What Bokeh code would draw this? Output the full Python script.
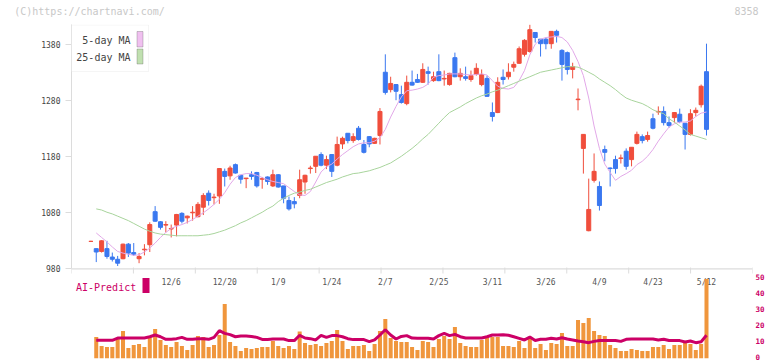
import numpy as np
from bokeh.plotting import figure
from bokeh.models import Range1d, LinearAxis, FixedTicker, Span, Label, BoxAnnotation, ColumnDataSource
from bokeh.core.properties import value
from bokeh.embed import file_html
from bokeh.resources import INLINE

nan = float("nan")

# ---------------- data ----------------
opens = [1029, 1016, 1011, 1016, 1001, 997, 998, 1024, 1009, 998,
         1014, 1023, 1082, 1064, 1058, 1051, 1058, 1079, 1071, 1080,
         1073, 1090, 1115, 1107, 1110, 1154, 1146, 1166, 1147, 1141,
         1148, 1152, 1140, 1144, 1128, 1148, 1128, 1102, 1100, 1111,
         1135, 1159, 1163, 1184, 1165, 1184, 1165, 1203, 1222, 1209,
         1231, 1202, 1216, 1204, 1218, 1331, 1300, 1309, 1291, 1275,
         1313, 1318, 1313, 1332, 1316, 1332, 1319, 1309, 1357, 1323,
         1323, 1318, 1327, 1309, 1320, 1259, 1259, 1322, 1323, 1340,
         1347, 1363, 1368, 1402, 1390, 1390, 1382, 1404, 1370, 1366,
         1336, 1282, 1195, 1048, 1138, 1127, 1193, 1160, 1175, 1177,
         1190, 1175, 1204, 1216, 1211, 1248, 1260, 1261, 1241, 1250,
         1256, 1240, 1220, 1259, 1273, 1332]
highs = [1030, 1016, 1031, 1030, 1009, 1003, 1025, 1026, 1026, 1008,
         1024, 1063, 1092, 1065, 1065, 1059, 1078, 1081, 1075, 1092,
         1099, 1115, 1120, 1114, 1160, 1159, 1164, 1168, 1147, 1142,
         1154, 1153, 1144, 1145, 1157, 1149, 1128, 1109, 1108, 1157,
         1148, 1164, 1181, 1188, 1182, 1185, 1216, 1216, 1222, 1222,
         1235, 1210, 1217, 1214, 1267, 1363, 1323, 1310, 1307, 1325,
         1334, 1328, 1347, 1341, 1332, 1363, 1334, 1330, 1366, 1338,
         1341, 1334, 1347, 1336, 1325, 1277, 1322, 1336, 1347, 1350,
         1377, 1390, 1416, 1402, 1390, 1393, 1404, 1407, 1372, 1368,
         1348, 1302, 1220, 1141, 1186, 1136, 1200, 1161, 1182, 1184,
         1195, 1197, 1225, 1220, 1225, 1257, 1270, 1270, 1252, 1260,
         1266, 1240, 1265, 1268, 1309, 1382]
lows = [1028, 992, 1009, 998, 993, 985, 997, 1001, 1003, 990,
        1004, 1010, 1064, 1050, 1045, 1036, 1038, 1061, 1061, 1066,
        1072, 1076, 1093, 1095, 1096, 1127, 1139, 1150, 1132, 1124,
        1139, 1125, 1123, 1130, 1126, 1125, 1097, 1084, 1088, 1106,
        1114, 1150, 1151, 1163, 1158, 1144, 1163, 1194, 1204, 1205,
        1209, 1186, 1197, 1203, 1202, 1291, 1295, 1281, 1275, 1272,
        1307, 1312, 1312, 1309, 1314, 1315, 1307, 1307, 1322, 1316,
        1316, 1314, 1325, 1306, 1287, 1243, 1258, 1309, 1318, 1332,
        1346, 1359, 1366, 1384, 1359, 1372, 1373, 1384, 1316, 1327,
        1320, 1263, 1150, 1047, 1134, 1084, 1172, 1127, 1150, 1168,
        1157, 1163, 1202, 1204, 1207, 1229, 1255, 1236, 1232, 1241,
        1240, 1193, 1218, 1252, 1268, 1218]
closes = [1029, 1010, 1030, 1002, 997, 990, 1024, 1008, 1006, 1002,
          1015, 1059, 1065, 1054, 1059, 1052, 1077, 1065, 1074, 1081,
          1095, 1111, 1102, 1108, 1159, 1145, 1160, 1151, 1140, 1142,
          1145, 1128, 1141, 1136, 1148, 1126, 1106, 1087, 1096, 1139,
          1147, 1160, 1181, 1165, 1175, 1154, 1202, 1213, 1209, 1216,
          1211, 1188, 1203, 1213, 1261, 1295, 1311, 1297, 1277, 1313,
          1308, 1313, 1336, 1329, 1323, 1316, 1320, 1329, 1323, 1329,
          1320, 1325, 1338, 1327, 1288, 1252, 1313, 1318, 1331, 1345,
          1373, 1388, 1407, 1393, 1382, 1382, 1404, 1397, 1345, 1336,
          1341, 1283, 1220, 1086, 1154, 1093, 1188, 1159, 1159, 1178,
          1163, 1197, 1220, 1209, 1218, 1231, 1261, 1241, 1236, 1259,
          1243, 1220, 1257, 1263, 1306, 1229]
ma5 = [nan, 1044, 1036, 1028, 1019, 1011, 1008, 1006, 1004, 1005,
       1010, 1017, 1026, 1036, 1045, 1052, 1056, 1059, 1063, 1068,
       1074, 1080, 1087, 1095, 1104, 1116, 1131, 1143, 1148, 1150,
       1150, 1147, 1143, 1139, 1136, 1134, 1132, 1125, 1118, 1112,
       1111, 1118, 1135, 1153, 1162, 1167, 1176, 1184, 1191, 1198,
       1203, 1205, 1205, 1208, 1214, 1229, 1251, 1270, 1287, 1298,
       1299, 1301, 1304, 1310, 1322, 1325, 1326, 1328, 1328, 1328,
       1327, 1326, 1327, 1328, 1326, 1316, 1306, 1302, 1301, 1304,
       1316, 1334, 1362, 1381, 1390, 1393, 1394, 1395, 1393, 1385,
       1370, 1350, 1325, 1285, 1235, 1195, 1167, 1152, 1138, 1145,
       1150, 1156, 1166, 1172, 1181, 1193, 1208, 1221, 1233, 1239,
       1242, 1242, 1244, 1252, 1258, 1260]
ma25 = [nan, 1087, 1085, 1081, 1078, 1074, 1070, 1066, 1061, 1056,
        1051, 1047, 1044, 1042, 1041, 1040, 1039, 1039, 1039, 1039,
        1039, 1040, 1041, 1043, 1046, 1049, 1053, 1057, 1062, 1066,
        1071, 1076, 1081, 1087, 1092, 1100, 1106, 1111, 1115, 1117,
        1120, 1122, 1126, 1130, 1134, 1137, 1140, 1144, 1147, 1150,
        1151, 1153, 1155, 1158, 1161, 1165, 1169, 1175, 1181, 1188,
        1195, 1203, 1212, 1220, 1230, 1240, 1250, 1259, 1264, 1269,
        1275, 1280, 1285, 1289, 1292, 1296, 1299, 1303, 1307, 1311,
        1315, 1319, 1323, 1327, 1331, 1333, 1335, 1337, 1339, 1341,
        1341, 1340, 1336, 1331, 1326, 1319, 1313, 1307, 1300, 1292,
        1285, 1281, 1278, 1275, 1270, 1264, 1260, 1257, 1248, 1242,
        1235, 1228, 1220, 1217, 1214, 1211]
volume = [nan, 13.4, 7.8, 7.2, 7.2, 12.5, 17.2, 6.6, 8.4, 9.1,
          7.2, 13.2, 18.4, 11.6, 8.4, 7.2, 10.3, 7.8, 5.3, 8.4,
          14.1, 13.4, 7.2, 8.4, 14.7, 34.1, 10.3, 7.8, 4.7, 6.6,
          5.9, 6.6, 7.2, 7.2, 10.9, 7.8, 6.6, 7.8, 5.9, 16.8,
          9.7, 8.4, 9.1, 7.8, 9.7, 10.9, 17.8, 10.9, 5.9, 7.8,
          7.8, 8.4, 4.7, 9.1, 17.2, 24.7, 12.8, 10.9, 10.3, 10.3,
          7.2, 5.3, 10.9, 10.3, 7.2, 12.2, 14.1, 12.2, 19.7, 9.7,
          7.8, 7.2, 7.2, 11.6, 13.4, 13.4, 13.4, 7.8, 7.8, 7.2,
          10.9, 6.6, 12.2, 6.6, 9.1, 5.3, 9.7, 9.1, 15.9, 7.8,
          7.8, 24.1, 22.2, 25.3, 17.2, 14.7, 14.1, 8.4, 6.6, 4.7,
          4.7, 5.9, 5.3, 4.7, 4.7, 7.2, 7.2, 8.4, 5.9, 8.4,
          8.4, 10.9, 9.1, 5.3, 9.1, 49.7]
ai_predict = [nan, 11.4, 11.4, 11.4, 11.4, 12.8, 12.8, 12.8, 12.8, 12.8,
              12.8, 13.6, 14.7, 13.6, 12.0, 12.0, 12.4, 13.2, 12.0, 12.0,
              12.4, 12.4, 12.0, 13.2, 17.4, 15.7, 14.9, 13.6, 14.1, 14.1,
              13.8, 13.2, 11.9, 11.9, 12.2, 12.2, 12.2, 11.2, 11.2, 14.5,
              12.8, 12.4, 11.6, 14.5, 13.2, 14.3, 14.3, 13.6, 12.4, 11.8,
              11.8, 11.8, 10.5, 11.6, 14.7, 18.0, 14.7, 12.2, 13.8, 14.3,
              12.8, 12.6, 12.6, 12.6, 12.2, 14.3, 15.7, 14.3, 15.1, 13.6,
              12.8, 12.8, 12.8, 12.8, 13.6, 14.7, 14.7, 14.8, 14.5, 13.6,
              12.6, 11.6, 13.4, 11.2, 12.0, 12.0, 12.6, 12.2, 13.0, 12.2,
              11.6, 10.9, 10.5, 9.9, 10.7, 11.2, 11.2, 11.2, 11.2, 10.7,
              12.0, 12.2, 12.2, 12.2, 12.2, 12.2, 11.6, 12.0, 11.2, 11.2,
              11.2, 10.3, 10.9, 9.9, 10.5, 14.5]
tick_index = [15, 25, 35, 45, 55, 65, 75, 85, 95, 105, 115]
tick_labels = ["12/6", "12/20", "1/9", "1/24", "2/7", "2/25", "3/11", "3/26", "4/9", "4/23", "5/12"]
price_ticks = [980, 1080, 1180, 1280, 1380]
volume_ticks = [0, 10, 20, 30, 40, 50]
code_label = "8358"
copyright_label = "(C)https://chartnavi.com/"

# ---------------- styling / geometry ----------------
FONT = "DejaVu Sans Mono"
RED = "#f04e3c"
BLUE = "#3a78f0"
ORANGE = "#f0963c"
CRIMSON = "#cc0066"
MA5_COLOR = "#e2a8e8"
MA25_COLOR = "#a8d49c"
AXIS = "#dcdcdc"

FRAME_LEFT, FRAME_TOP = 71, 24      # page pixels
FRAME_W, FRAME_H = 681, 334
DX = 5.353                           # pixels per session
X_FIRST_PX = 90.4                    # page x of session 0
X0 = (FRAME_LEFT - X_FIRST_PX) / DX
X1 = X0 + FRAME_W / DX
PY = 0.56                            # pixels per yen
P_TOP = 980 + (268.3 - FRAME_TOP) / PY
P_BOT = P_TOP - FRAME_H / PY
VY = 1.6                             # pixels per volume unit
V_TOP = FRAME_H / VY
LABEL_SHIFT = 1.5 / VY               # keep the "0" of the volume scale inside the page


def xp(px):
    return X0 + (px - FRAME_LEFT) / DX


def yp(py):
    return P_TOP - (py - FRAME_TOP) / PY


o = np.array(opens, dtype=float)
c = np.array(closes, dtype=float)
h = np.array(highs, dtype=float)
l = np.array(lows, dtype=float)
n = len(c)
idx = np.arange(n)
colors = [RED if cc >= oo else BLUE for oo, cc in zip(o, c)]

p = figure(frame_width=FRAME_W, frame_height=FRAME_H,
           x_range=Range1d(X0, X1), y_range=Range1d(P_BOT, P_TOP),
           output_backend="svg", toolbar_location=None, x_axis_location=None,
           min_border_left=FRAME_LEFT, min_border_right=12,
           min_border_top=FRAME_TOP, min_border_bottom=3)
p.extra_y_ranges = {"vol": Range1d(0, V_TOP),
                    "vol_labels": Range1d(-LABEL_SHIFT, V_TOP - LABEL_SHIFT)}
p.extra_x_ranges = {"page": Range1d(FRAME_LEFT, FRAME_LEFT + FRAME_W)}
p.outline_line_color = None
p.grid.visible = False
p.background_fill_color = "white"
p.border_fill_color = "white"

ya = p.yaxis[0]
ya.ticker = FixedTicker(ticks=price_ticks)
ya.bounds = (980, P_TOP)
ya.axis_line_color = AXIS
ya.major_tick_line_color = AXIS
ya.major_tick_out = 6
ya.major_tick_in = 0
ya.minor_tick_line_color = None
ya.major_label_text_font = FONT
ya.major_label_text_font_size = "8px"
ya.major_label_text_color = "#444444"
ya.major_label_standoff = 5

va = LinearAxis(y_range_name="vol_labels", ticker=FixedTicker(ticks=volume_ticks),
                axis_line_color=None, major_tick_line_color=None, minor_tick_line_color=None,
                major_tick_out=0, major_tick_in=0, major_label_standoff=3,
                major_label_text_color=CRIMSON, major_label_text_font=FONT,
                major_label_text_font_size="7.5px", major_label_text_font_style="bold")
p.add_layout(va, "right")

# header texts: copyright (left) and security code (right), as labels of a bare top axis
hdr_pos = [89, 746]
hdr = LinearAxis(x_range_name="page", ticker=FixedTicker(ticks=hdr_pos),
                 major_label_overrides={hdr_pos[0]: copyright_label, hdr_pos[1]: code_label},
                 axis_line_color=None, major_tick_line_color=None, minor_tick_line_color=None,
                 major_tick_out=0, major_tick_in=0, major_label_standoff=8,
                 major_label_text_color="#c8c8c8", major_label_text_font=FONT,
                 major_label_text_font_size="10px")
p.add_layout(hdr, "above")

# x axis line and tick marks (drawn inside the frame)
p.add_layout(Span(location=980, dimension="width", line_color=AXIS, line_width=1.3))
tx = list(np.linspace(X0, X1, 12))
p.segment(x0=tx, x1=tx, y0=[yp(267)] * 12, y1=[yp(273)] * 12, line_color=AXIS, line_width=1)

# date labels
p.text(x=tick_index, y=[yp(282)] * len(tick_index), text=tick_labels,
       text_font=value(FONT), text_font_size=value("8px"), text_color="#555555",
       text_align="center", text_baseline="middle")

# volume and AI prediction
p.vbar(x=idx, top=np.array(volume, dtype=float), bottom=0, width=0.75,
       fill_color=ORANGE, line_color=None, y_range_name="vol")
p.line(x=idx, y=np.array(ai_predict, dtype=float), line_color=CRIMSON, line_width=3,
       y_range_name="vol")

# candlesticks
src = ColumnDataSource(dict(x=idx, top=np.maximum(o, c), bottom=np.minimum(o, c),
                            high=h, low=l, color=colors))
p.segment(x0="x", x1="x", y0="high", y1="low", line_color="color", line_width=1, source=src)
p.vbar(x="x", width=0.75, top="top", bottom="bottom", fill_color="color",
       line_color="color", line_width=1, source=src)

# moving averages
p.line(x=idx, y=np.array(ma5, dtype=float), line_color=MA5_COLOR, line_width=1)
p.line(x=idx, y=np.array(ma25, dtype=float), line_color=MA25_COLOR, line_width=1)

# legend box
p.add_layout(BoxAnnotation(left=xp(71), right=xp(148), top=yp(24.5), bottom=yp(71),
                           fill_color="white", fill_alpha=1.0, line_color="#dddddd", line_width=1))
p.add_layout(BoxAnnotation(left=xp(136.5), right=xp(142.5), top=yp(31), bottom=yp(46.5),
                           fill_color="#f0c0f0", fill_alpha=1.0, line_color="#555555", line_width=1))
p.add_layout(BoxAnnotation(left=xp(136.5), right=xp(142.5), top=yp(48.5), bottom=yp(63.5),
                           fill_color="#c0e0b0", fill_alpha=1.0, line_color="#555555", line_width=1))
for txt, ypix in (("5-day MA", 39.5), ("25-day MA", 56.5)):
    p.add_layout(Label(x=xp(130), y=yp(ypix), text=txt, text_align="right", text_baseline="middle",
                       text_font=FONT, text_font_size="10px", text_color="#444444"))

# AI-Predict legend
p.add_layout(Label(x=xp(75.5), y=yp(286.5), text="AI-Predict", text_align="left",
                   text_baseline="middle", text_font=FONT, text_font_size="10px",
                   text_color=CRIMSON))
p.add_layout(BoxAnnotation(left=xp(142), right=xp(149), top=yp(277.5), bottom=yp(292.5),
                           fill_color=CRIMSON, fill_alpha=1.0, line_color=None))

open("out.html", "w").write(file_html(p, INLINE))
